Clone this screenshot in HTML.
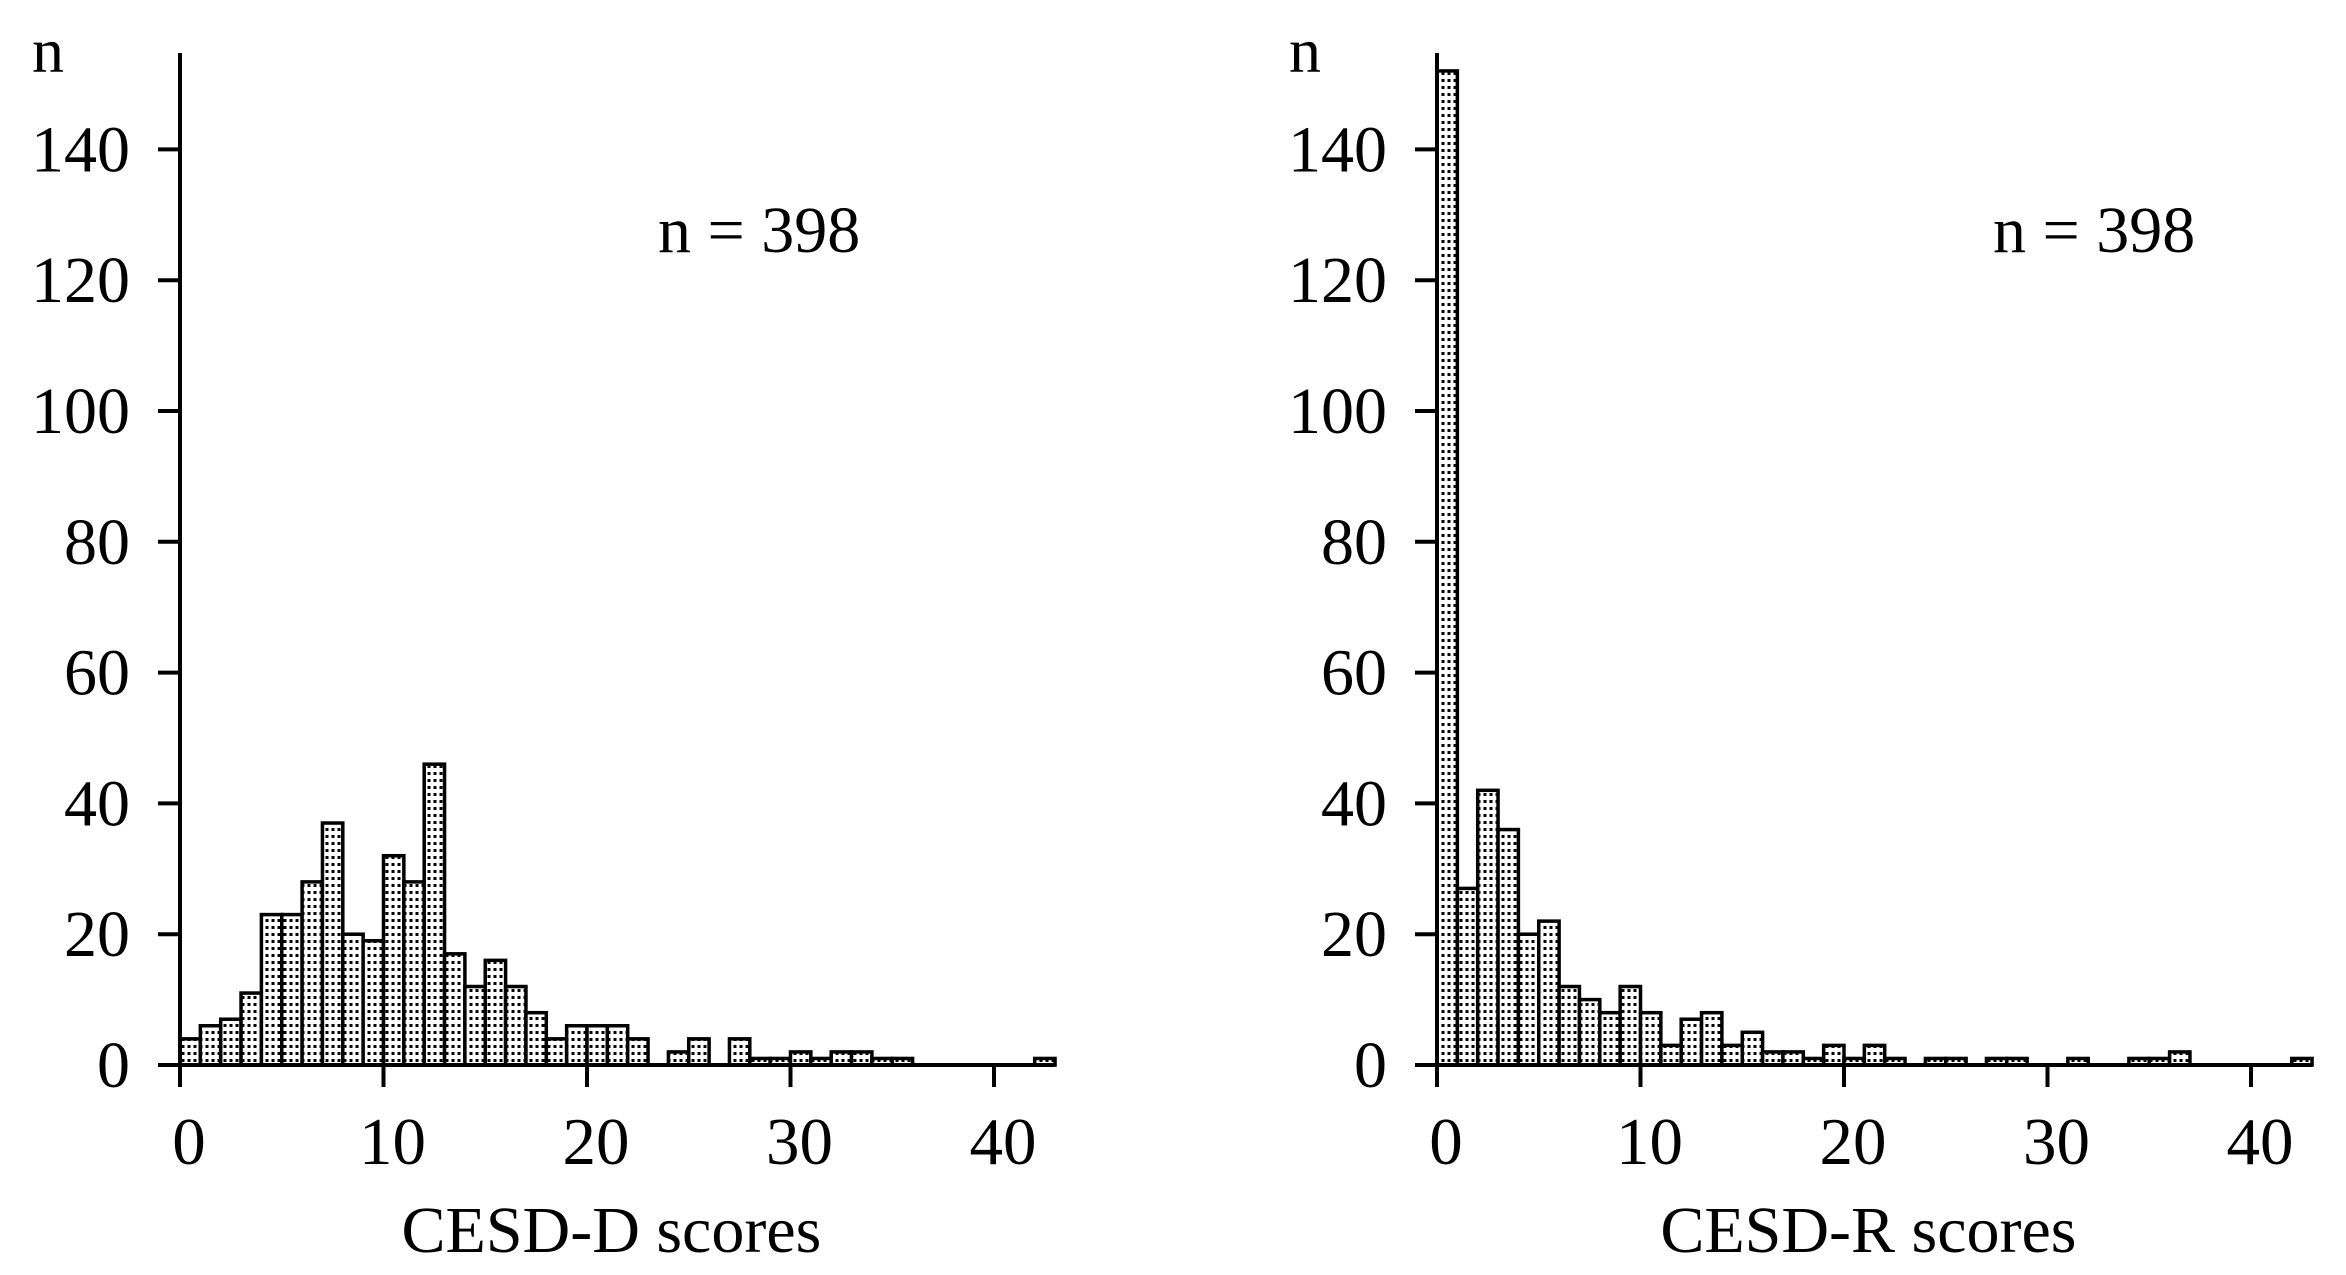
<!DOCTYPE html>
<html><head><meta charset="utf-8"><style>
html,body{margin:0;padding:0;background:#fff;}
svg{display:block;font-family:"Liberation Serif",serif;}
</style></head><body>
<svg id="chart" width="2346" height="1275" viewBox="0 0 2346 1275" xmlns="http://www.w3.org/2000/svg">
<defs>
<pattern id="dots" patternUnits="userSpaceOnUse" width="6" height="7">
<rect width="6" height="7" fill="#fff"/>
<rect x="1.5" y="2" width="3" height="3" fill="#000"/>
</pattern>
</defs>
</svg>
<script>
const categories = [0,1,2,3,4,5,6,7,8,9,10,11,12,13,14,15,16,17,18,19,20,21,22,23,24,25,26,27,28,29,30,31,32,33,34,35,36,37,38,39,40,41,42];
const cesdD = [4,6,7,11,23,23,28,37,20,19,32,28,46,17,12,16,12,8,4,6,6,6,4,0,2,4,0,4,1,1,2,1,2,2,1,1,0,0,0,0,0,0,1];
const cesdR = [152,27,42,36,20,22,12,10,8,12,8,3,7,8,3,5,2,2,1,3,1,3,1,0,1,1,0,1,1,0,0,1,0,0,1,1,2,0,0,0,0,0,1];
const yTicks = [0,20,40,60,80,100,120,140];
const xTicks = [0,10,20,30,40];
const titles = ["CESD-D scores","CESD-R scores"];
const nLabel = "n = 398";

const svg = document.getElementById('chart');
const NS = 'http://www.w3.org/2000/svg';
function mk(tag, attrs){ const e=document.createElementNS(NS,tag); for(const k in attrs) e.setAttribute(k,attrs[k]); svg.appendChild(e); return e; }

function panel(x0, values, title, key, nX){
  const base = 1065, yU = 6.54, xU = 20.35;
  const X = v => x0 + v*xU;
  const Y = v => base - v*yU;
  values.forEach((v,i)=>{
    if(v<=0) return;
    const r = mk('rect',{x:X(categories[i]),y:Y(v),width:xU,height:v*yU,fill:'url(#dots)',stroke:'#000','stroke-width':3.5});
    
    
  });
  const ya = mk('line',{x1:x0,y1:53,x2:x0,y2:base,stroke:'#000','stroke-width':4});
  
  
  const xa = mk('line',{x1:x0-22,y1:base,x2:X(43),y2:base,stroke:'#000','stroke-width':4});
  
  
  yTicks.forEach(t=>{
    const tk = mk('line',{x1:x0-22,y1:Y(t),x2:x0,y2:Y(t),stroke:'#000','stroke-width':4});
    
    
    const tx = mk('text',{x:x0-50,y:Y(t)+22,'font-size':66,'text-anchor':'end'});
    tx.textContent = t;
    
    
  });
  xTicks.forEach(t=>{
    const tk = mk('line',{x1:X(t),y1:base,x2:X(t),y2:base+22,stroke:'#000','stroke-width':4});
    
    
    const tx = mk('text',{x:X(t)+9,y:1164,'font-size':67,'text-anchor':'middle'});
    tx.textContent = t;
    
    
  });
  const n = mk('text',{x:x0-148,y:72,'font-size':64});
  n.textContent = 'n';
  
  
  const t = mk('text',{x:X(21.2),y:1252,'font-size':66,'text-anchor':'middle'});
  t.textContent = title;
  
  
  const a = mk('text',{x:nX,y:252,'font-size':66});
  a.textContent = nLabel;
  
  
}
panel(180, cesdD, titles[0], 'cesd-d', 658);
panel(1437, cesdR, titles[1], 'cesd-r', 1993);
</script>
</body></html>
